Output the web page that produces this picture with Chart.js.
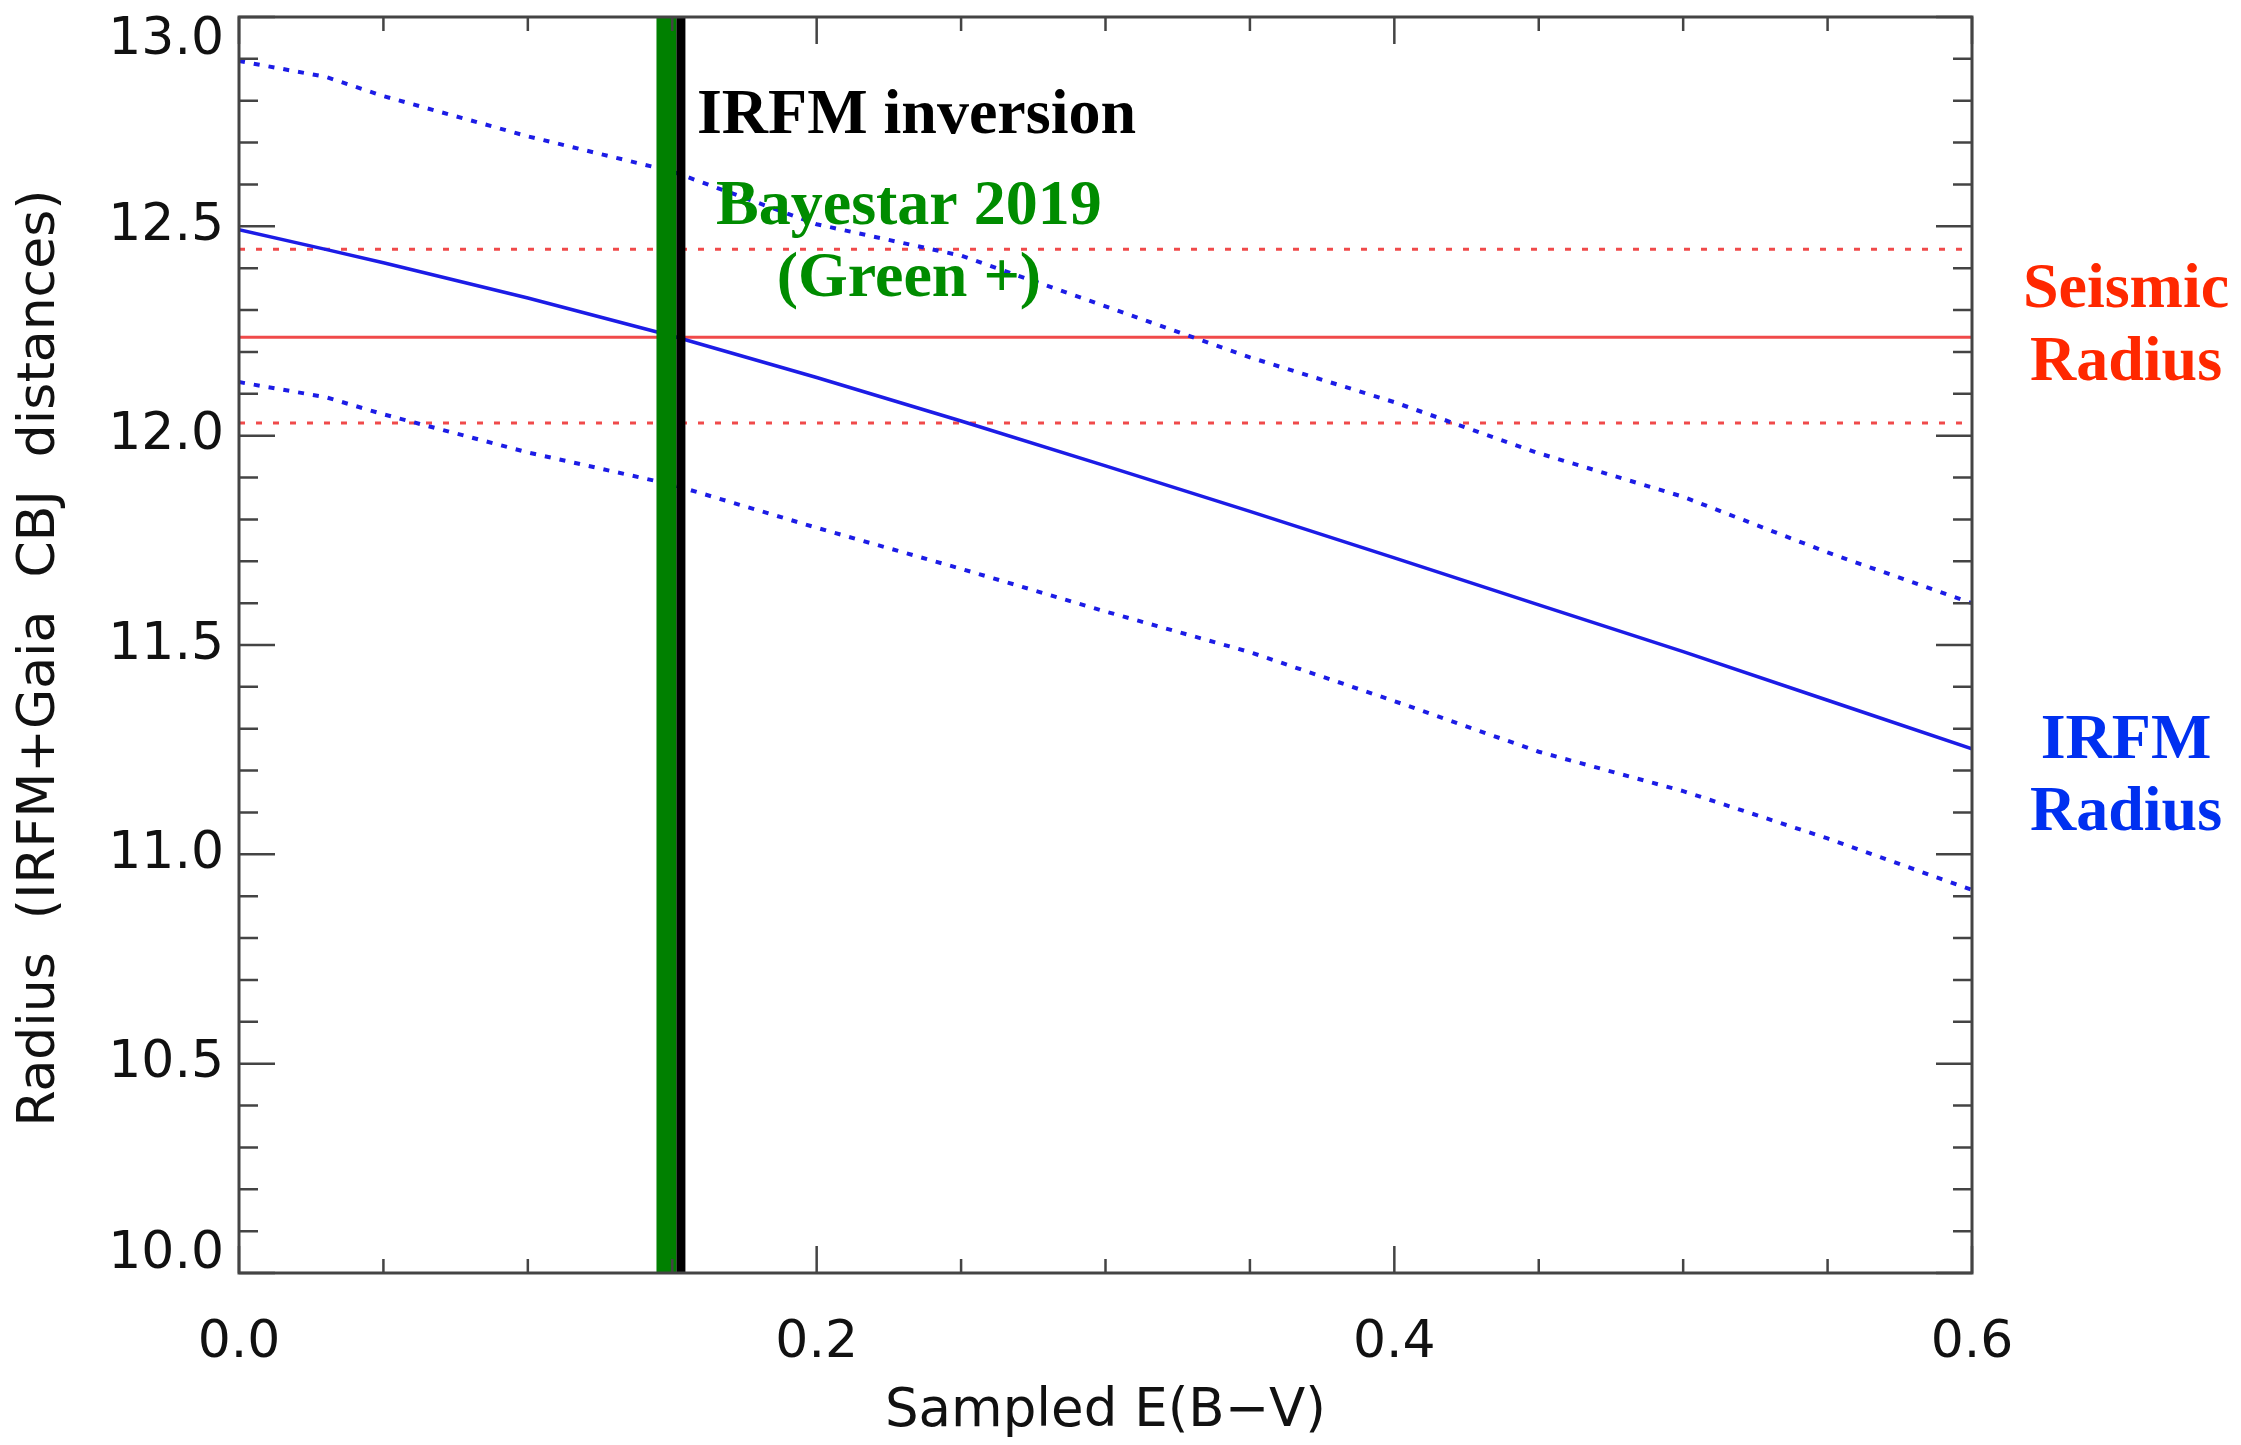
<!DOCTYPE html>
<html>
<head>
<meta charset="utf-8">
<script src="https://cdn.jsdelivr.net/npm/chart.js@4/dist/chart.umd.min.js"></script>
<style>
  html, body { margin: 0; padding: 0; background: #fff; }
  #wrap { width: 2241px; height: 1445px; }
</style>
</head>
<body>
<div id="wrap"><canvas id="radiusChart" width="2241" height="1445"></canvas></div>
<script>
// sampled E(B-V) grid
const ebvSamples = [0, 0.03, 0.05, 0.1, 0.15, 0.2, 0.25, 0.3, 0.35, 0.4, 0.45, 0.5, 0.55, 0.6];

// IRFM radius and its upper / lower envelope
const irfmRadius = [12.492, 12.445, 12.413, 12.329, 12.238, 12.139, 12.035, 11.928, 11.819, 11.708, 11.596, 11.484, 11.368, 11.252];
const irfmUpper = [12.895, 12.857, 12.811, 12.715, 12.631, 12.505, 12.43, 12.309, 12.187, 12.08, 11.958, 11.854, 11.721, 11.6];
const irfmLower = [12.128, 12.092, 12.051, 11.96, 11.883, 11.78, 11.682, 11.58, 11.483, 11.366, 11.245, 11.151, 11.038, 10.915];

// seismic radius: value, upper, lower
const seismicRadius = [12.235, 12.445, 12.03];

// vertical markers
const bayestarEBV = 0.148;
const irfmInversionEBV = 0.153;

const xRange = [0, 0.6];
const yRange = [10.0, 13.0];

const pairs = (xs, ys) => xs.map((x, i) => ({ x: x, y: ys[i] }));
const hLine = (v) => xRange.map((x) => ({ x: x, y: v }));
const vLine = (e) => yRange.map((y) => ({ x: e, y: y }));

const blue = "#1c1ce6";
const red = "#f04a4a";

const isMajorX = (v) => Math.round(v / 0.05) % 4 === 0;
const isMajorY = (v) => Math.round(v * 10) % 5 === 0;

const frameAndTicks = {
  id: "frameAndTicks",
  afterDraw(chart) {
    const { ctx, chartArea: a, scales } = chart;
    const xs = scales.x, ys = scales.y;
    ctx.save();
    ctx.strokeStyle = "#444";
    ctx.lineWidth = 2.5;
    ctx.beginPath();
    xs.ticks.forEach((t) => {
      const px = xs.getPixelForValue(t.value);
      const len = isMajorX(t.value) ? 27 : 14;
      ctx.moveTo(px, a.bottom); ctx.lineTo(px, a.bottom - len);
      ctx.moveTo(px, a.top); ctx.lineTo(px, a.top + len);
    });
    ys.ticks.forEach((t) => {
      const py = ys.getPixelForValue(t.value);
      const len = isMajorY(t.value) ? 36 : 19;
      ctx.moveTo(a.left, py); ctx.lineTo(a.left + len, py);
      ctx.moveTo(a.right, py); ctx.lineTo(a.right - len, py);
    });
    ctx.stroke();
    ctx.lineWidth = 3;
    ctx.strokeRect(a.left, a.top, a.right - a.left, a.bottom - a.top);

    // y tick labels, the end ones kept inside the frame
    ctx.fillStyle = "#111";
    ctx.font = "52px 'DejaVu Sans', sans-serif";
    ctx.textAlign = "right";
    ctx.textBaseline = "middle";
    ys.ticks.forEach((t) => {
      if (!isMajorY(t.value)) return;
      let py = ys.getPixelForValue(t.value);
      if (t.value === ys.max) py += 23;
      if (t.value === ys.min) py -= 19;
      ctx.fillText(t.value.toFixed(1), a.left - 15, py);
    });
    ctx.restore();
  }
};

const annotations = {
  id: "annotations",
  afterDatasetsDraw(chart) {
    const { ctx, chartArea: a, scales } = chart;
    const lineX = scales.x.getPixelForValue(irfmInversionEBV);
    ctx.save();
    ctx.font = "bold 64px 'Liberation Serif', 'Times New Roman', serif";
    ctx.textBaseline = "alphabetic";

    ctx.fillStyle = "#000";
    ctx.textAlign = "left";
    ctx.fillText("IRFM inversion", lineX + 16, a.top + 116);

    ctx.fillStyle = "#008c00";
    ctx.textAlign = "center";
    ctx.fillText("Bayestar 2019", lineX + 228, a.top + 207);
    ctx.fillText("(Green +)", lineX + 228, a.top + 279);

    const sideX = a.right + 154;
    ctx.fillStyle = "#ff2800";
    ctx.fillText("Seismic", sideX, a.top + 290);
    ctx.fillText("Radius", sideX, a.top + 363);

    ctx.fillStyle = "#0030f0";
    ctx.fillText("IRFM", sideX, a.top + 741);
    ctx.fillText("Radius", sideX, a.top + 813);
    ctx.restore();
  }
};

const lineDefaults = { pointRadius: 0, fill: false, tension: 0, borderCapStyle: "butt" };

new Chart(document.getElementById("radiusChart"), {
  type: "line",
  data: {
    datasets: [
      { ...lineDefaults, data: vLine(irfmInversionEBV), borderColor: "#000", borderWidth: 9, order: 0 },
      { ...lineDefaults, data: vLine(bayestarEBV), borderColor: "#008000", borderWidth: 20, order: 1 },
      { ...lineDefaults, data: pairs(ebvSamples, irfmRadius), borderColor: blue, borderWidth: 3.5, order: 2 },
      { ...lineDefaults, data: pairs(ebvSamples, irfmUpper), borderColor: blue, borderWidth: 4, borderDash: [6, 9], order: 3 },
      { ...lineDefaults, data: pairs(ebvSamples, irfmLower), borderColor: blue, borderWidth: 4, borderDash: [6, 9], order: 4 },
      { ...lineDefaults, data: hLine(seismicRadius[0]), borderColor: red, borderWidth: 3, order: 5 },
      { ...lineDefaults, data: hLine(seismicRadius[1]), borderColor: red, borderWidth: 3, borderDash: [6, 11], order: 6 },
      { ...lineDefaults, data: hLine(seismicRadius[2]), borderColor: red, borderWidth: 3, borderDash: [6, 11], order: 7 }
    ]
  },
  options: {
    responsive: false,
    animation: false,
    devicePixelRatio: 1,
    layout: { padding: { top: 17, right: 269, left: 0, bottom: 0 } },
    plugins: { legend: { display: false }, tooltip: { enabled: false } },
    scales: {
      x: {
        type: "linear",
        min: xRange[0],
        max: xRange[1],
        grid: { display: false, drawTicks: false },
        border: { display: false },
        ticks: {
          stepSize: 0.05,
          autoSkip: false,
          maxRotation: 0,
          padding: 39,
          color: "#111",
          font: { family: "'DejaVu Sans', sans-serif", size: 52 },
          callback: (v) => (isMajorX(v) ? v.toFixed(1) : "")
        },
        title: {
          display: true,
          text: "Sampled E(B\u2212V)",
          color: "#111",
          font: { family: "'DejaVu Sans', sans-serif", size: 53 },
          padding: { top: 0, bottom: 1 }
        },
        afterFit: (scale) => {
          scale.height = 172;
          scale.paddingLeft = 0;
          scale.paddingRight = 0;
        }
      },
      y: {
        min: yRange[0],
        max: yRange[1],
        grid: { display: false, drawTicks: false },
        border: { display: false },
        ticks: { display: false, stepSize: 0.1, autoSkip: false },
        title: {
          display: true,
          text: "Radius  (IRFM+Gaia  CBJ  distances)\u2002",
          color: "#111",
          font: { family: "'DejaVu Sans', sans-serif", size: 52 },
          padding: { top: 9, bottom: 0 }
        },
        afterFit: (scale) => {
          scale.width = 239;
          scale.paddingTop = 0;
          scale.paddingBottom = 0;
        }
      }
    }
  },
  plugins: [annotations, frameAndTicks]
});
</script>
</body>
</html>
